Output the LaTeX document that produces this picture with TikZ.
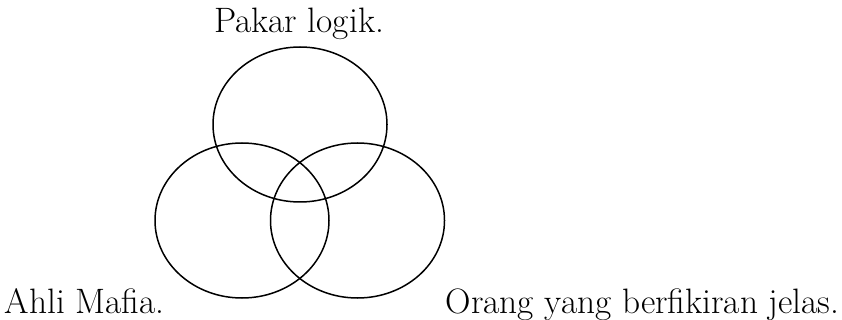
\documentclass[tikz,border=0pt]{standalone}
\usepackage{fontspec}

\begin{document}
\begin{tikzpicture}[x=1pt, y=-1pt, line width=1.5pt,
    label/.style={inner sep=0pt, font=\fontsize{35.3}{40}\selectfont}]
    % 固定画布大小
    \useasboundingbox (0,0) rectangle (842,320);

    % 三个椭圆的中心
    \coordinate (logik) at (300,124.5);
    \coordinate (mafia) at (242,220.5);
    \coordinate (jelas) at (357.5,220.5);

    % 画三个椭圆
    \draw (logik) ellipse [x radius=87, y radius=77.5];
    \draw (mafia) ellipse [x radius=87, y radius=77.5];
    \draw (jelas) ellipse [x radius=87, y radius=77.5];

    % 标注集合
    \node[label, anchor=base] (tlogik) at (299,33) {Pakar logik.};
    \node[label, anchor=base west] (tmafia) at (4,313) {Ahli Mafia.};
    \node[label, anchor=base west] (tjelas) at (445,313) {Orang yang berfikiran jelas.};
\end{tikzpicture}
\end{document}
